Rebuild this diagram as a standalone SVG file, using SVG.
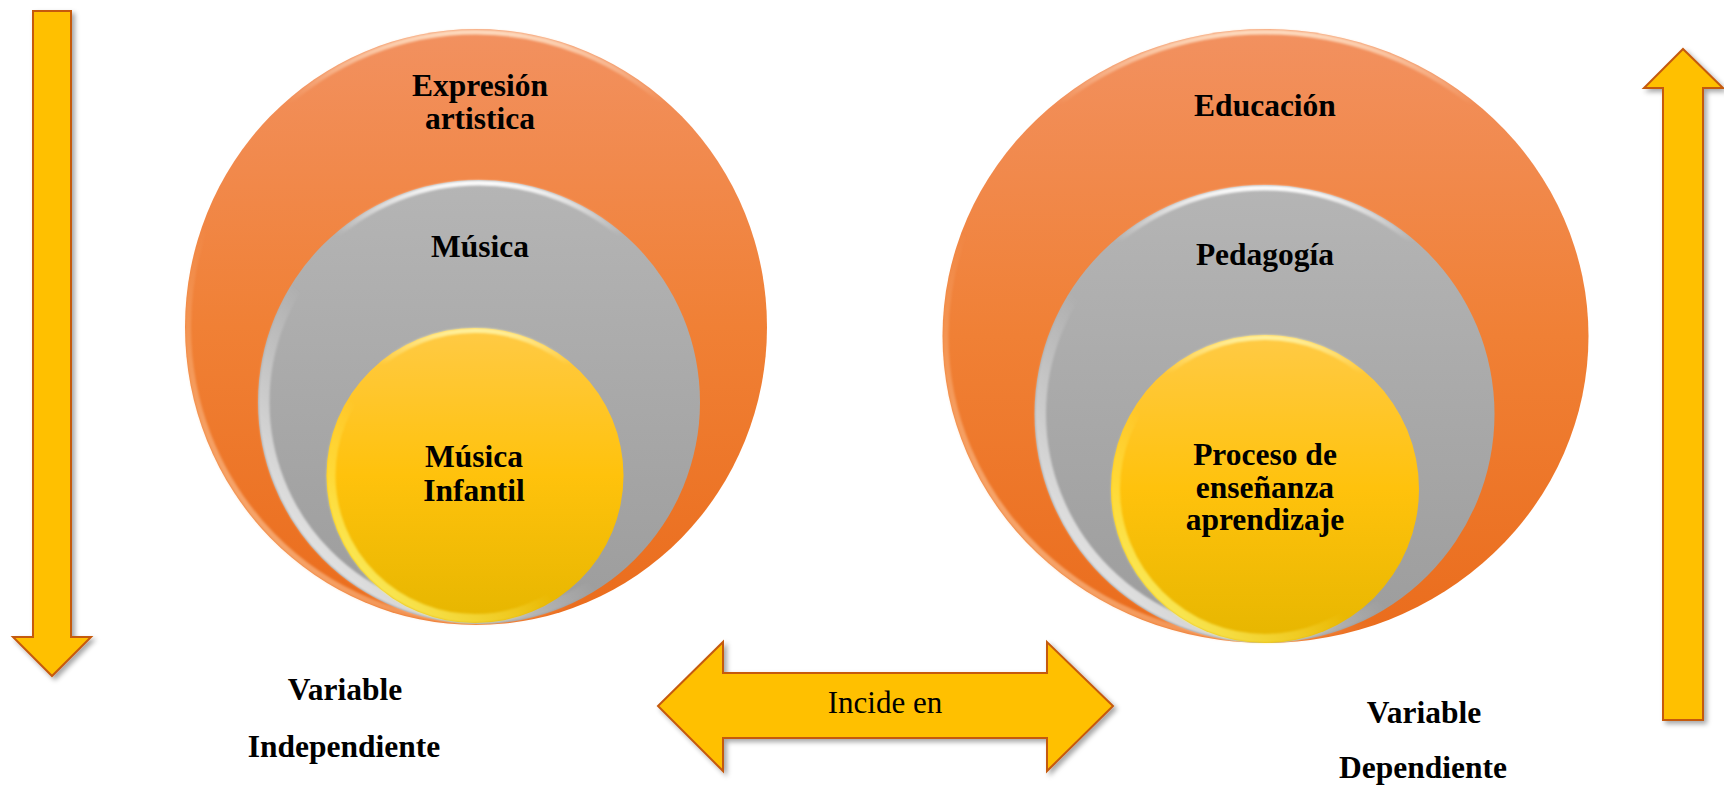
<svg xmlns="http://www.w3.org/2000/svg" width="1724" height="787" viewBox="0 0 1724 787">
  <defs>
    <style>
      .lbl { font-family: "Liberation Serif", "Times New Roman", serif; font-weight: bold; font-size: 31.5px; fill: #000; text-anchor: middle; }
      .plain { font-family: "Liberation Serif", "Times New Roman", serif; font-size: 31px; fill: #000; text-anchor: middle; }
      .arrow { fill: #FFC000; stroke: #C55A11; stroke-width: 2; stroke-linejoin: miter; filter: url(#shadow); }
      .orange { fill: url(#gOrange); }
      .gray { fill: url(#gGray); }
      .yellow { fill: url(#gYellow); }
      .hiTop { fill: none; stroke: url(#gTopHi); stroke-width: 5; filter: url(#soft); }
      .hiLL { fill: none; stroke: url(#gLLHi); stroke-width: 11; filter: url(#soft); }
      .hiTopY { fill: none; stroke: url(#gTopHiY); stroke-width: 5; filter: url(#soft); }
      .hiLLY { fill: none; stroke: url(#gLLHiY); stroke-width: 9; filter: url(#soft); }
      .hiTopO { fill: none; stroke: url(#gTopHiO); stroke-width: 5; filter: url(#soft); }
      .hiLLO { fill: none; stroke: url(#gLLHiO); stroke-width: 6; filter: url(#soft); }
    </style>
    <linearGradient id="gOrange" x1="0" y1="0" x2="0" y2="1">
      <stop offset="0" stop-color="#F29160"/>
      <stop offset="0.5" stop-color="#F08035"/>
      <stop offset="1" stop-color="#EA6C1C"/>
    </linearGradient>
    <linearGradient id="gGray" x1="0" y1="0" x2="0" y2="1">
      <stop offset="0" stop-color="#B5B5B5"/>
      <stop offset="1" stop-color="#9C9C9C"/>
    </linearGradient>
    <linearGradient id="gYellow" x1="0" y1="0" x2="0" y2="1">
      <stop offset="0" stop-color="#FFCA45"/>
      <stop offset="0.5" stop-color="#FFC20C"/>
      <stop offset="1" stop-color="#E6B600"/>
    </linearGradient>
    <linearGradient id="gTopHi" x1="0" y1="0" x2="0" y2="1">
      <stop offset="0" stop-color="#FFFFFF" stop-opacity="0.95"/>
      <stop offset="0.12" stop-color="#FFFFFF" stop-opacity="0"/>
    </linearGradient>
    <linearGradient id="gTopHiO" x1="0" y1="0" x2="0" y2="1">
      <stop offset="0" stop-color="#FFE2C8" stop-opacity="0.9"/>
      <stop offset="0.12" stop-color="#FFE2C8" stop-opacity="0"/>
    </linearGradient>
    <linearGradient id="gTopHiY" x1="0" y1="0" x2="0" y2="1">
      <stop offset="0" stop-color="#FFF2A0" stop-opacity="0.95"/>
      <stop offset="0.12" stop-color="#FFF2A0" stop-opacity="0"/>
    </linearGradient>
    <linearGradient id="gLLHi" x1="0" y1="1" x2="0.7" y2="0.3">
      <stop offset="0" stop-color="#FFFFFF" stop-opacity="1"/>
      <stop offset="0.4" stop-color="#FFFFFF" stop-opacity="0.35"/>
      <stop offset="0.6" stop-color="#FFFFFF" stop-opacity="0"/>
    </linearGradient>
    <linearGradient id="gLLHiO" x1="0" y1="1" x2="0.7" y2="0.3">
      <stop offset="0" stop-color="#FFD0A8" stop-opacity="0.9"/>
      <stop offset="0.5" stop-color="#FFD0A8" stop-opacity="0"/>
    </linearGradient>
    <linearGradient id="gLLHiY" x1="0" y1="1" x2="0.7" y2="0.3">
      <stop offset="0" stop-color="#FFFF80" stop-opacity="1"/>
      <stop offset="0.45" stop-color="#FFF060" stop-opacity="0.35"/>
      <stop offset="0.6" stop-color="#FFF060" stop-opacity="0"/>
    </linearGradient>
    <filter id="shadow" x="-20%" y="-20%" width="150%" height="150%">
      <feDropShadow dx="3" dy="3" stdDeviation="2.5" flood-color="#000" flood-opacity="0.35"/>
    </filter>
    <filter id="soft" x="-10%" y="-10%" width="120%" height="120%">
      <feGaussianBlur stdDeviation="1.2"/>
    </filter>
  </defs>

  <rect width="1724" height="787" fill="#FFFFFF"/>

  <!-- Left nested circles -->
  <g id="expresion-artistica">
    <ellipse class="orange" cx="476" cy="327" rx="291" ry="298"/>
    <ellipse class="hiTopO" cx="476" cy="327" rx="288" ry="295"/>
    <ellipse class="hiLLO" cx="476" cy="327" rx="288" ry="295"/>
    <text class="lbl" x="480" y="96">Expresión<tspan x="480" dy="33">artistica</tspan></text>
  </g>
  <g id="musica">
    <ellipse class="gray" cx="479" cy="402" rx="221" ry="222"/>
    <ellipse class="hiTop" cx="479" cy="402" rx="218" ry="219"/>
    <ellipse class="hiLL" cx="479" cy="402" rx="215" ry="216"/>
    <text class="lbl" x="480" y="257">Música</text>
  </g>
  <g id="musica-infantil">
    <ellipse class="yellow" cx="475" cy="475.5" rx="148.5" ry="147.5"/>
    <ellipse class="hiTopY" cx="475" cy="475.5" rx="146" ry="145"/>
    <ellipse class="hiLLY" cx="475" cy="475.5" rx="144" ry="143"/>
    <text class="lbl" x="474" y="467">Música<tspan x="474" dy="34">Infantil</tspan></text>
  </g>

  <!-- Right nested circles -->
  <g id="educacion">
    <ellipse class="orange" cx="1265.5" cy="336" rx="323" ry="307"/>
    <ellipse class="hiTopO" cx="1265.5" cy="336" rx="320" ry="304"/>
    <ellipse class="hiLLO" cx="1265.5" cy="336" rx="320" ry="304"/>
    <text class="lbl" x="1265" y="116">Educación</text>
  </g>
  <g id="pedagogia">
    <ellipse class="gray" cx="1264.5" cy="414" rx="230" ry="229"/>
    <ellipse class="hiTop" cx="1264.5" cy="414" rx="227" ry="226"/>
    <ellipse class="hiLL" cx="1264.5" cy="414" rx="224" ry="223"/>
    <text class="lbl" x="1265" y="265">Pedagogía</text>
  </g>
  <g id="proceso-ensenanza">
    <ellipse class="yellow" cx="1265" cy="489" rx="154" ry="154"/>
    <ellipse class="hiTopY" cx="1265" cy="489" rx="151.5" ry="151.5"/>
    <ellipse class="hiLLY" cx="1265" cy="489" rx="149.5" ry="149.5"/>
    <text class="lbl" x="1265" y="465">Proceso de<tspan x="1265" dy="33">enseñanza</tspan><tspan x="1265" dy="32">aprendizaje</tspan></text>
  </g>

  <!-- Block arrows -->
  <g id="connectors">
    <g id="arrow-down">
      <polygon class="arrow" points="33,11 71,11 71,637 91,637 52,676 13,637 33,637"/>
    </g>
    <g id="arrow-up">
      <polygon class="arrow" points="1663,720 1703,720 1703,88 1723,88 1683,49 1644,88 1663,88"/>
    </g>
    <g id="arrow-incide">
      <polygon class="arrow" points="658,706 723,642 723,673 1047,673 1047,642 1113,706 1047,771 1047,738 723,738 723,771"/>
      <text class="plain" x="885" y="713">Incide en</text>
    </g>
  </g>

  <!-- Variable labels -->
  <g id="label-independiente">
    <text class="lbl" x="345" y="700">Variable</text>
    <text class="lbl" x="344" y="757">Independiente</text>
  </g>
  <g id="label-dependiente">
    <text class="lbl" x="1424" y="723">Variable</text>
    <text class="lbl" x="1423" y="778">Dependiente</text>
  </g>
</svg>
